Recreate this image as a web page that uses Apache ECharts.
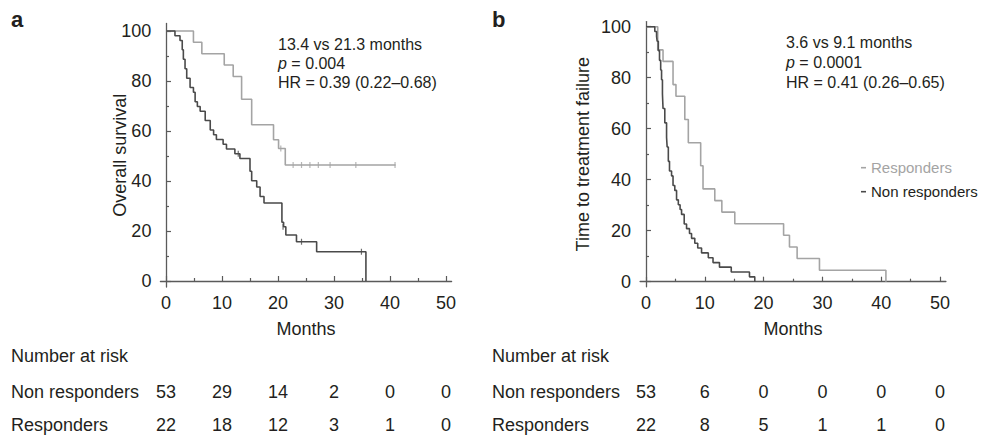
<!DOCTYPE html>
<html>
<head>
<meta charset="utf-8">
<title>Overall survival and time to treatment failure</title>
<script src="https://cdn.jsdelivr.net/npm/echarts@6.0.0/dist/echarts.min.js"></script>
<style>
  html, body { margin: 0; padding: 0; background: #fff; }
  #main { width: 981px; height: 442px; }
</style>
</head>
<body>
<div id="main"></div>
<script>
// tick labels / risk table columns
var monthTicks = [0, 10, 20, 30, 40, 50];
var monthMinor = [5, 15, 25, 35, 45];
var pctTicks = [0, 20, 40, 60, 80, 100];
var pctMinor = [10, 30, 50, 70, 90];
var groups = ['Responders', 'Non responders'];

// a: overall survival, [month of step, % after step]
var osResponders = [[0, 100], [4.9, 95.5], [6.4, 90.9], [10.4, 86.4], [12.0, 81.8], [13.5, 72.7],
    [15.3, 62.5], [19.2, 56.5], [20.1, 53.0], [21.3, 46.4], [41, 46.4]];
var osNonResponders = [[0, 100], [1.6, 98.1], [2.5, 96.2], [2.9, 92.5], [3.1, 88.7], [3.4, 84.9],
    [3.7, 81.1], [4.3, 77.4], [4.9, 75.5], [5.2, 71.7], [5.6, 69.8], [6.1, 67.9], [7.0, 64.2],
    [7.9, 60.4], [8.5, 58.5], [9.0, 56.6], [10.2, 54.7], [10.8, 52.8], [12.3, 50.9], [13.2, 49.0],
    [15.0, 43.9], [15.3, 40.1], [16.2, 37.6], [16.8, 33.8], [17.5, 31.2], [20.7, 23.5], [21.0, 21.7],
    [21.4, 18.4], [23.3, 15.7], [26.9, 11.7], [35.7, 0]];
var osRespCensor = [[20.5, 53.0], [22.7, 46.4], [24.2, 46.4], [25.7, 46.4], [27.2, 46.4],
    [29.3, 46.4], [33.9, 46.4], [40.9, 46.4]];
var osNonCensor = [[12.9, 50.9], [20.9, 21.7], [24.2, 15.7], [34.9, 11.7]];

// b: time to treatment failure
var ttfResponders = [[0, 100], [2.0, 90.9], [2.9, 86.4], [4.6, 77.3], [5.1, 72.7], [6.6, 63.6],
    [7.2, 54.5], [9.3, 45.5], [9.7, 36.4], [11.7, 31.8], [12.9, 27.3], [15.1, 22.7], [23.4, 18.2],
    [24.4, 13.6], [25.7, 9.1], [29.5, 4.5], [40.8, 0]];
var ttfNonResponders = [[0, 100], [1.5, 98.1], [1.8, 96.2], [1.9, 94.3], [2.1, 90.6], [2.3, 86.8],
    [2.5, 83.0], [2.65, 79.2], [2.8, 73.6], [2.9, 67.9], [3.2, 62.3], [3.5, 56.6], [3.6, 52.8],
    [3.8, 47.2], [4.0, 43.4], [4.35, 41.5], [4.6, 37.7], [4.9, 35.8], [5.2, 32.1], [5.5, 30.2],
    [5.8, 28.3], [6.05, 26.4], [6.5, 22.6], [6.9, 20.8], [7.4, 18.9], [7.75, 17.0], [8.3, 15.1],
    [8.8, 13.2], [9.45, 11.3], [10.6, 9.4], [11.4, 7.5], [12.5, 5.7], [14.5, 3.8], [17.6, 1.9],
    [18.5, 0]];

// number at risk
var riskNonA = [53, 29, 14, 2, 0, 0];
var riskRespA = [22, 18, 12, 3, 1, 0];
var riskNonB = [53, 6, 0, 0, 0, 0];
var riskRespB = [22, 8, 5, 1, 1, 0];

var FONT = '"Liberation Sans", Arial, Helvetica, sans-serif';
var TXT = '#231f20';
var AXIS = '#5a5a5a';
var LIGHT = '#a4a4a4';
var DARK = '#4a4a4a';

var chart = echarts.init(document.getElementById('main'), null, { renderer: 'svg' });

function mainX(grid, name) {
    return {
        gridIndex: grid, type: 'value', min: -1, max: 51, position: 'bottom',
        axisLine: { lineStyle: { color: AXIS, width: 1.3 } },
        axisTick: { inside: true, length: 5, customValues: monthTicks, lineStyle: { color: AXIS, width: 1.2 } },
        axisLabel: { customValues: monthTicks, margin: 7, fontSize: 18, color: TXT, fontFamily: FONT },
        splitLine: { show: false },
        name: name, nameLocation: 'middle', nameGap: 33, nameMoveOverlap: false,
        nameTextStyle: { fontSize: 18, color: TXT, fontFamily: FONT }
    };
}
function minorX(grid) {
    return {
        gridIndex: grid, type: 'value', min: -1, max: 51, position: 'bottom',
        axisLine: { show: false },
        axisTick: { inside: true, length: 3, customValues: monthMinor, lineStyle: { color: AXIS, width: 1.2 } },
        axisLabel: { show: false }, splitLine: { show: false }
    };
}
function mainY(grid, min, max, name, gap) {
    return {
        gridIndex: grid, type: 'value', min: min, max: max, position: 'left',
        axisLine: { lineStyle: { color: AXIS, width: 1.3 } },
        axisTick: { inside: true, length: 5, customValues: pctTicks, lineStyle: { color: AXIS, width: 1.2 } },
        axisLabel: { customValues: pctTicks, margin: 9, fontSize: 18, color: TXT, fontFamily: FONT },
        splitLine: { show: false },
        name: name, nameLocation: 'middle', nameGap: gap, nameMoveOverlap: false,
        nameTextStyle: { fontSize: 18, color: TXT, fontFamily: FONT }
    };
}
function minorY(grid, min, max) {
    return {
        gridIndex: grid, type: 'value', min: min, max: max, position: 'left',
        axisLine: { show: false },
        axisTick: { inside: true, length: 3, customValues: pctMinor, lineStyle: { color: AXIS, width: 1.2 } },
        axisLabel: { show: false }, splitLine: { show: false }
    };
}
function riskX(grid) {
    return { gridIndex: grid, type: 'value', min: -1, max: 51, show: false };
}
function riskY(grid, margin) {
    return {
        gridIndex: grid, type: 'category', data: groups,
        axisLine: { show: false }, axisTick: { show: false },
        axisLabel: { align: 'left', margin: margin, fontSize: 18, color: TXT, fontFamily: FONT }
    };
}
function kmLine(name, data, x, y, color) {
    return {
        name: name, type: 'line', step: 'end', xAxisIndex: x, yAxisIndex: y, data: data,
        symbol: 'none', lineStyle: { color: color, width: 1.6 }, itemStyle: { color: color }
    };
}
function censor(data, x, y, color) {
    return {
        type: 'scatter', xAxisIndex: x, yAxisIndex: y, data: data,
        symbol: 'rect', symbolSize: [1.2, 6], itemStyle: { color: color }
    };
}
function riskRow(counts, group) {
    return monthTicks.map(function (m, i) { return [m, group, counts[i]]; });
}
function riskSeries(x, y, nonCounts, respCounts) {
    return {
        type: 'scatter', xAxisIndex: x, yAxisIndex: y, symbolSize: 1,
        itemStyle: { color: '#fff' },
        data: riskRow(nonCounts, 'Non responders').concat(riskRow(respCounts, 'Responders')),
        label: {
            show: true, position: 'inside', fontSize: 18, color: TXT, fontFamily: FONT,
            textBorderWidth: 0, opacity: 1,
            formatter: function (p) { return String(p.value[2]); }
        }
    };
}
function note(x, y, text) {
    return {
        type: 'text', left: x, top: y - 9,
        style: {
            text: text, fill: TXT, fontSize: 16, fontFamily: FONT,
            rich: { i: { fontStyle: 'italic', fontSize: 16, fontFamily: FONT, fill: TXT } }
        }
    };
}
function plain(x, y, text, size, weight) {
    return {
        type: 'text', left: x, top: y - size / 2,
        style: { text: text, fill: TXT, fontSize: size, fontWeight: weight || 'normal', fontFamily: FONT }
    };
}

var option = {
    animation: false,
    grid: [
        { left: 160.4, top: 23.5, width: 291.2, height: 263.5 },
        { left: 640.1, top: 21.6, width: 305.8, height: 265.2 },
        { left: 160.4, top: 375.8, width: 291.2, height: 70 },
        { left: 640.1, top: 375.8, width: 305.8, height: 70 }
    ],
    xAxis: [mainX(0, 'Months'), mainX(1, 'Months'), minorX(0), minorX(1), riskX(2), riskX(3)],
    yAxis: [
        mainY(0, -2.4, 103, 'Overall survival', 31),
        mainY(1, -2, 102, 'Time to treatment failure', 48),
        minorY(0, -2.4, 103), minorY(1, -2, 102),
        riskY(2, 149.4), riskY(3, 148.1)
    ],
    legend: {
        orient: 'vertical', left: 856, top: 155.2, itemGap: 9,
        icon: 'rect', itemWidth: 5, itemHeight: 1.6, selectedMode: false,
        textStyle: { fontSize: 15, lineHeight: 15, fontFamily: FONT },
        data: [
            { name: 'Responders', textStyle: { color: LIGHT } },
            { name: 'Non responders', textStyle: { color: TXT } }
        ]
    },
    series: [
        kmLine('Responders', osResponders, 0, 0, LIGHT),
        kmLine('Non responders', osNonResponders, 0, 0, DARK),
        censor(osRespCensor, 0, 0, LIGHT),
        censor(osNonCensor, 0, 0, DARK),
        kmLine('Responders', ttfResponders, 1, 1, LIGHT),
        kmLine('Non responders', ttfNonResponders, 1, 1, DARK),
        riskSeries(4, 4, riskNonA, riskRespA),
        riskSeries(5, 5, riskNonB, riskRespB)
    ],
    graphic: [
        plain(11, 19, 'a', 22, 'bold'),
        plain(492, 19, 'b', 22, 'bold'),
        plain(11, 356, 'Number at risk', 18),
        plain(492, 356, 'Number at risk', 18),
        note(278, 45, '13.4 vs 21.3 months'),
        note(278, 64, '{i|p} = 0.004'),
        note(278, 83, 'HR = 0.39 (0.22\u20130.68)'),
        note(786, 43, '3.6 vs 9.1 months'),
        note(786, 63, '{i|p} = 0.0001'),
        note(786, 83, 'HR = 0.41 (0.26\u20130.65)')
    ]
};
chart.setOption(option);
</script>
</body>
</html>
